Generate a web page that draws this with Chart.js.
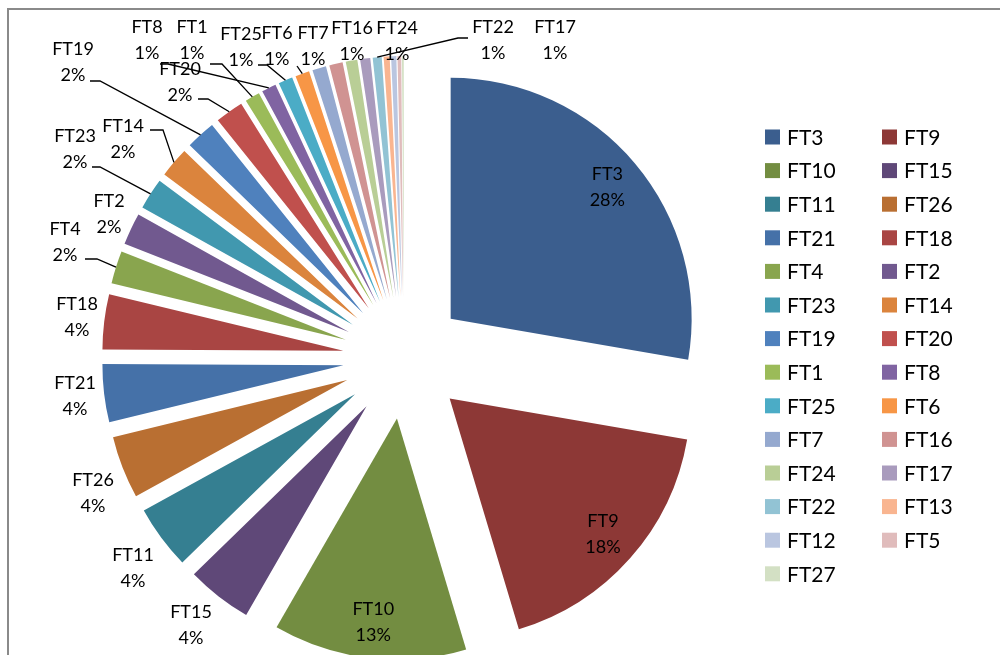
<!DOCTYPE html>
<html lang="en">
<head>
<meta charset="UTF-8">
<title>FT share pie</title>
<script src="https://cdn.jsdelivr.net/npm/chart.js@4.4.1/dist/chart.umd.min.js"></script>
<style>
  body { margin: 0; background: #fff; }
  #wrap { position: relative; width: 1000px; height: 655px; }
</style>
</head>
<body>
<div id="wrap"><canvas id="pie"></canvas></div>
<script>
// slices, clockwise from 12 o'clock (same order as the legend)
const categories = ["FT3", "FT9", "FT10", "FT15", "FT11", "FT26", "FT21", "FT18", "FT4", "FT2",
  "FT23", "FT14", "FT19", "FT20", "FT1", "FT8", "FT25", "FT6", "FT7", "FT16",
  "FT24", "FT17", "FT22", "FT13", "FT12", "FT5", "FT27"];
// share of each, in %
const shares = [27.8, 17.7, 13.0, 4.4, 4.3, 4.2, 3.9, 3.7, 2.2, 2.15,
  2.1, 2.05, 2.0, 1.9, 1.0, 0.98, 0.96, 0.95, 0.93, 0.9,
  0.78, 0.68, 0.6, 0.4, 0.35, 0.25, 0.12];
const sliceColors = ["#3b5e8e", "#8d3836", "#738d41", "#5f4878", "#357f91", "#b96f32", "#4571a8", "#a94543", "#89a54e", "#71598f",
  "#4198af", "#db843d", "#4f81bd", "#c0504d", "#9bbb59", "#8064a2", "#4bacc6", "#f79646", "#95a9cf", "#d09392",
  "#b9ce96", "#a99bbd", "#92c3d4", "#f9b590", "#bac6e0", "#e0bcbc", "#d3e0c4"];

const R = 241;        // pie radius
const EXPLODE = 61;   // how far every slice is pulled out

// labels drawn inside their slice
const insideLabels = ["FT3", "FT9", "FT10"];
// outside labels: centre of first line, optional leader [start x, start y, elbow x]
const labelLayout = {
  FT15: {x: 191, y: 612}, FT11: {x: 133, y: 555}, FT26: {x: 93, y: 480},
  FT21: {x: 75, y: 383}, FT18: {x: 77, y: 304},
  FT4: {x: 65, y: 229, lead: [85, 259, 97]},
  FT2: {x: 109, y: 201},
  FT23: {x: 75, y: 136, lead: [92, 167, 100]},
  FT14: {x: 123, y: 126, lead: [150, 130, 163]},
  FT19: {x: 73, y: 49, lead: [90, 81, 100]},
  FT20: {x: 180, y: 69, lead: [198, 99, 208]},
  FT8: {x: 147, y: 27, lead: [160, 64, 168]},
  FT1: {x: 192, y: 27, lead: [210, 64, 222]},
  FT25: {x: 241, y: 34, lead: [258, 65, 267]},
  FT6: {x: 277, y: 33, lead: [297, 66, 297]},
  FT7: {x: 313, y: 33}, FT16: {x: 352, y: 28}, FT24: {x: 397, y: 28},
  FT22: {x: 493, y: 27, lead: [468, 38, 458]},
  FT17: {x: 555, y: 27}
};

const total = shares.reduce((a, b) => a + b, 0);
const pct = v => Math.round(v / total * 100) + "%";

// own centre of an exploded slice
function sliceGeom(arc) {
  const mid = (arc.startAngle + arc.endAngle) / 2;
  const cx = arc.x + Math.cos(mid) * EXPLODE;
  const cy = arc.y + Math.sin(mid) * EXPLODE;
  return {mid, cx, cy};
}

const explodePlugin = {
  id: "explode",
  beforeDatasetsDraw(chart) {
    // Chart.js shrinks small arcs when they carry an offset; keep them whole
    chart.getDatasetMeta(0).data.forEach(arc => { arc.circumference = Math.PI / 2; });
  }
};

const framePlugin = {
  id: "frame",
  beforeDraw(chart) {
    const ctx = chart.ctx;
    ctx.save();
    ctx.fillStyle = "#8a8a8a";
    ctx.fillRect(7, 8, 993, 2);
    ctx.fillRect(7, 8, 2, 647);
    ctx.restore();
  }
};

const labelPlugin = {
  id: "pieLabels",
  afterDatasetsDraw(chart) {
    const ctx = chart.ctx;
    const arcs = chart.getDatasetMeta(0).data;
    ctx.save();
    ctx.font = "18px Lato";
    ctx.fillStyle = "#000";
    ctx.strokeStyle = "#000";
    ctx.lineWidth = 1.3;
    ctx.textAlign = "center";
    ctx.textBaseline = "middle";
    arcs.forEach((arc, i) => {
      const name = categories[i];
      const g = sliceGeom(arc);
      let x, y;
      if (insideLabels.includes(name)) {
        x = g.cx + Math.cos(g.mid) * R * 0.85;
        y = g.cy + Math.sin(g.mid) * R * 0.85 - 13;
      } else if (labelLayout[name]) {
        const L = labelLayout[name];
        x = L.x; y = L.y;
        if (L.lead) {
          const ex = g.cx + Math.cos(g.mid) * R;
          const ey = g.cy + Math.sin(g.mid) * R;
          ctx.beginPath();
          ctx.moveTo(L.lead[0], L.lead[1]);
          ctx.lineTo(L.lead[2], L.lead[1]);
          ctx.lineTo(ex, ey);
          ctx.stroke();
        }
      } else {
        return;
      }
      ctx.fillText(name, x, y);
      ctx.fillText(pct(shares[i]), x, y + 26);
    });
    ctx.restore();
  }
};

const legendPlugin = {
  id: "twoColLegend",
  afterDraw(chart) {
    const ctx = chart.ctx;
    ctx.save();
    ctx.font = "21px Lato";
    ctx.textBaseline = "middle";
    ctx.textAlign = "left";
    categories.forEach((name, i) => {
      const x = i % 2 === 0 ? 765 : 882;
      const y = 137 + Math.floor(i / 2) * 33.6;
      ctx.fillStyle = sliceColors[i];
      ctx.fillRect(x, y - 7.5, 15, 15);
      ctx.fillStyle = "#000";
      ctx.fillText(name, x + 22, y + 1);
    });
    ctx.restore();
  }
};

new Chart(document.getElementById("pie"), {
  type: "pie",
  data: {
    labels: categories,
    datasets: [{
      data: shares,
      backgroundColor: sliceColors,
      borderWidth: 0,
      offset: EXPLODE * 4,
      hoverOffset: 0,
      radius: R,
      clip: false
    }]
  },
  options: {
    responsive: true,
    maintainAspectRatio: false,
    animation: false,
    events: [],
    layout: { padding: { left: 0, right: 192, top: 61, bottom: 0 } },
    plugins: {
      legend: { display: false },
      tooltip: { enabled: false }
    }
  },
  plugins: [framePlugin, explodePlugin, labelPlugin, legendPlugin]
});
</script>
</body>
</html>
